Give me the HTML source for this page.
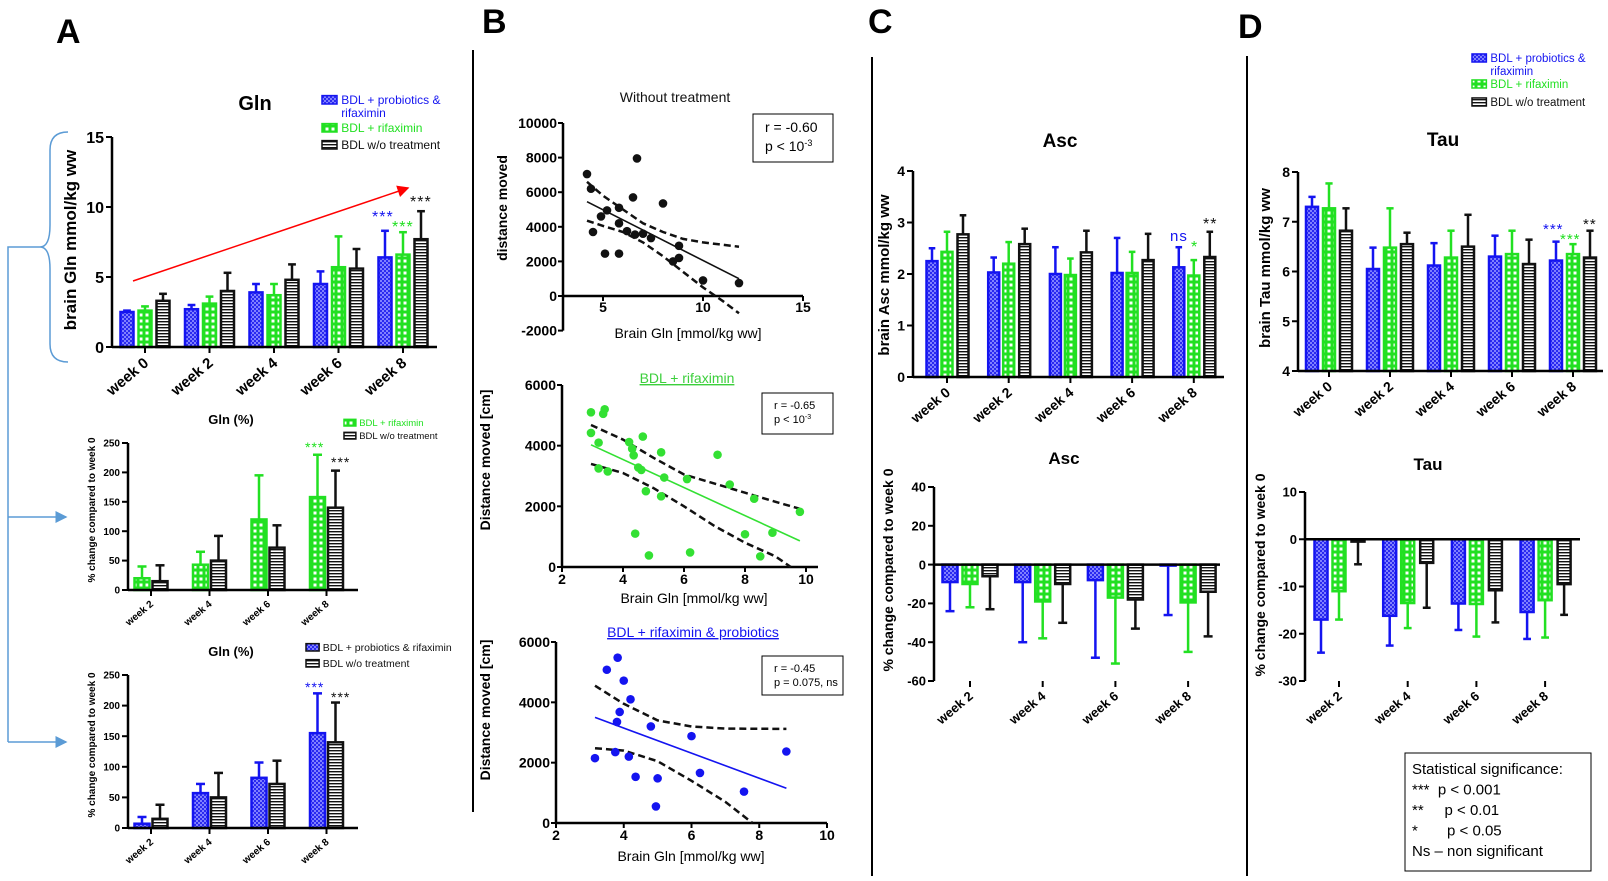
<!DOCTYPE html>
<html><head><meta charset="utf-8"><style>
html,body{margin:0;padding:0;background:#fff;width:1608px;height:881px;overflow:hidden}
svg{display:block;font-family:"Liberation Sans",Arial,sans-serif}
.pre{white-space:pre}
</style></head><body>
<svg id="fig" width="1608" height="881" viewBox="0 0 1608 881">
<defs>
<pattern id="pBlue" width="4" height="4" patternUnits="userSpaceOnUse"><rect width="4" height="4" fill="#2a2af0"/><rect width="2" height="2" fill="#8080ff"/><rect x="2" y="2" width="2" height="2" fill="#8080ff"/></pattern>
<pattern id="pGreen" width="6" height="6" patternUnits="userSpaceOnUse"><rect width="6" height="6" fill="#22e022"/><rect x="1.5" y="1.5" width="3" height="3" fill="#fff"/></pattern>
<pattern id="pBlack" width="4" height="3" patternUnits="userSpaceOnUse"><rect width="4" height="3" fill="#fff"/><rect y="0" width="4" height="1.4" fill="#111"/></pattern>
<marker id="arrowR" markerWidth="8" markerHeight="8" refX="7" refY="4" orient="auto"><path d="M0,0 L8,4 L0,8 z" fill="#f00"/></marker>
<marker id="arrowB" markerWidth="8" markerHeight="8" refX="7" refY="4" orient="auto"><path d="M0,0 L8,4 L0,8 z" fill="#5b9bd5"/></marker>
</defs>
<g id="root"></g>
</svg>
<script>
// ---------- DATA ----------
const weeks5 = ["week 0","week 2","week 4","week 6","week 8"];
const weeks4 = ["week 2","week 4","week 6","week 8"];
// A top: Gln
const glnBlue = [2.5,2.7,3.9,4.5,6.4];
const glnBlueTop = [2.6,3.0,4.5,5.4,8.3];
const glnGreen = [2.6,3.1,3.7,5.7,6.6];
const glnGreenTop = [2.9,3.6,4.5,7.9,8.2];
const glnBlack = [3.3,4.0,4.8,5.6,7.7];
const glnBlackTop = [3.8,5.3,5.9,7.0,9.7];
const glnTicks = [0,5,10,15];
// A middle: Gln % (rifaximin)
const glnPctGreen = [20,43,120,158];
const glnPctGreenTop = [40,65,195,230];
const glnPctBlack = [15,50,72,140];
const glnPctBlackTop = [42,92,110,203];
// A bottom: Gln % (probiotics)
const glnPctBlue = [7,57,82,155];
const glnPctBlueTop = [18,72,107,220];
const glnPctBlack2 = [15,50,72,140];
const glnPctBlack2Top = [38,90,110,205];
const pctTicks = [0,50,100,150,200,250];
// C top: Asc
const ascBlue = [2.25,2.03,2.0,2.02,2.13];
const ascBlueTop = [2.5,2.32,2.52,2.7,2.52];
const ascGreen = [2.43,2.2,1.98,2.02,1.97];
const ascGreenTop = [2.82,2.62,2.3,2.43,2.27];
const ascBlack = [2.77,2.58,2.42,2.27,2.33];
const ascBlackTop = [3.14,2.88,2.84,2.78,2.82];
const ascTicks = [0,1,2,3,4];
// C bottom: Asc %
const ascPctBlue = [-9,-9,-8,-0.5];
const ascPctBlueBot = [-24,-40,-48,-26];
const ascPctGreen = [-10,-19,-17,-19.5];
const ascPctGreenBot = [-22,-38,-51,-45];
const ascPctBlack = [-6,-10,-18,-14];
const ascPctBlackBot = [-23,-30,-33,-37];
const ascPctTicks = [-60,-40,-20,0,20,40];
// D top: Tau
const tauBlue = [7.3,6.05,6.12,6.3,6.22];
const tauBlueTop = [7.5,6.48,6.57,6.72,6.6];
const tauGreen = [7.27,6.48,6.28,6.35,6.35];
const tauGreenTop = [7.77,7.27,6.82,6.82,6.55];
const tauBlack = [6.82,6.55,6.5,6.15,6.28];
const tauBlackTop = [7.27,6.78,7.14,6.64,6.82];
const tauTicks = [4,5,6,7,8];
// D bottom: Tau %
const tauPctBlue = [-17,-16.2,-13.6,-15.4];
const tauPctBlueBot = [-24,-22.5,-19.2,-21.1];
const tauPctGreen = [-11,-13.5,-13.7,-12.9];
const tauPctGreenBot = [-17,-18.8,-20.6,-20.8];
const tauPctBlack = [-0.5,-5,-10.8,-9.5];
const tauPctBlackBot = [-5.3,-14.5,-17.6,-16];
const tauPctTicks = [-30,-20,-10,0,10];
// B scatter 1: without treatment
const s1X = [4.2,4.4,4.5,4.9,5.1,5.2,5.8,5.8,5.8,6.2,6.5,6.6,6.7,7.0,7.4,8.0,8.5,8.8,8.8,10.0,11.8];
const s1Y = [7050,6200,3700,4600,2450,4950,5100,4200,2450,3750,5700,3550,7950,3600,3350,5350,2000,2900,2200,900,750];
const s1LineX = [4.2,11.8];
const s1LineY = [5450,1000];
const s1UpX = [4.2,5,6,7,8,9,10,11.8];
const s1UpY = [6600,5800,5000,4200,3700,3300,3100,2850];
const s1LoX = [4.2,5,6,7,8,9,10,11,11.8];
const s1LoY = [4350,4050,3700,3100,2300,1400,500,-300,-1000];
const s1XTicks = [5,10,15];
const s1YTicks = [-2000,0,2000,4000,6000,8000,10000];
// B scatter 2: rifaximin
const s2X = [2.95,2.95,3.2,3.2,3.35,3.4,3.5,4.2,4.3,4.35,4.4,4.5,4.6,4.65,4.75,4.85,5.25,5.25,5.35,6.1,6.2,7.1,7.5,8.0,8.3,8.5,8.9,9.8];
const s2Y = [5100,4420,4100,3250,5050,5200,3150,4120,3900,3680,1100,3280,3200,4300,2500,380,3780,2330,2950,2900,480,3700,2720,1080,2250,350,1130,1820];
const s2LineX = [2.95,9.8];
const s2LineY = [4030,860];
const s2UpX = [2.95,4,5,6,7,8,9,9.8];
const s2UpY = [4680,4200,3600,3050,2750,2450,2150,1920];
const s2LoX = [2.95,4,5,6,7,8,9,9.5];
const s2LoY = [3400,3100,2600,2000,1350,800,350,0];
const s23XTicks = [2,4,6,8,10];
const s23YTicks = [0,2000,4000,6000];
// B scatter 3: rifaximin & probiotics
const s3X = [3.15,3.5,3.75,3.8,3.82,3.88,4.0,4.15,4.2,4.35,4.8,4.95,5.0,6.0,6.25,7.55,8.8];
const s3Y = [2150,5080,2350,3350,5480,3680,4720,2200,4100,1530,3200,550,1480,2880,1660,1040,2370];
const s3LineX = [3.15,8.8];
const s3LineY = [3500,1150];
const s3UpX = [3.15,4,5,6,7,8.8];
const s3UpY = [4550,3950,3400,3200,3130,3120];
const s3LoX = [3.15,4,5,6,7,7.8];
const s3LoY = [2480,2400,2050,1400,700,0];

// ---------- HELPERS ----------
const NS = "http://www.w3.org/2000/svg";
const root = document.getElementById("root");
function mk(tag, attrs, parent){
  const e = document.createElementNS(NS, tag);
  for (const k in attrs) e.setAttribute(k, attrs[k]);
  (parent || root).appendChild(e);
  return e;
}
function txt(s, attrs, parent){ const e = mk("text", attrs, parent); e.textContent = s; return e; }
function scale(d0, d1, r0, r1){ return v => r0 + (v - d0) / (d1 - d0) * (r1 - r0); }

const BLUE = "#1414f0", GREEN = "#22e022", BLACK = "#111";

function barChart(c){
  const g = mk("g", {});
  
  
  const y = scale(c.dMin, c.dMax, c.yBot, c.yTop);
  const y0 = y(c.base);
  c.series.forEach(s => {
    s.vals.forEach((v, i) => {
      const cx = c.c0 + i * c.step + s.off;
      const ye = y(s.err[i]);
      const yv = y(v);
      const eb = mk("line", {x1:cx, x2:cx, y1:yv, y2:ye, stroke:s.col, "stroke-width":2.5}, g);
      
      
      const cap = mk("line", {x1:cx-c.bw*0.3, x2:cx+c.bw*0.3, y1:ye, y2:ye, stroke:s.col, "stroke-width":2.5}, g);
      
      
      const r = mk("rect", {x:cx-c.bw/2, y:Math.min(yv,y0), width:c.bw, height:Math.max(1,Math.abs(y0-yv)), fill:s.fill, stroke:s.col, "stroke-width":2.5}, g);
      
      
    });
  });
  const ya = mk("line", {x1:c.x0, x2:c.x0, y1:c.yTop, y2:c.yBot, stroke:"#000", "stroke-width":2.5}, g);
  
  
  const xa = mk("line", {x1:c.x0, x2:c.xEnd, y1:y0, y2:y0, stroke:"#000", "stroke-width":2.5}, g);
  
  
  c.ticks.forEach(t => {
    mk("line", {x1:c.x0-6, x2:c.x0, y1:y(t), y2:y(t), stroke:"#000", "stroke-width":2}, g);
    const tl = txt(String(t), {x:c.x0-8, y:y(t)+c.tf*0.36, "text-anchor":"end", "font-size":c.tf, "font-weight":"bold"}, g);
    
    
  });
  const axY = c.labelAtBottom ? c.yBot : y0;
  c.cats.forEach((cat, i) => {
    const cx = c.c0 + i * c.step;
    mk("line", {x1:cx, x2:cx, y1:axY, y2:axY+6, stroke:"#000", "stroke-width":2}, g);
    const lx = cx + c.lf*0.3, ly = axY + 10 + c.lf*0.5;
    const wl = txt(cat, {x:lx, y:ly, "text-anchor":"end", "font-size":c.lf, "font-weight":"bold", transform:`rotate(-40 ${lx} ${ly})`}, g);
    
    
  });
  if (c.ylabel){
    const yl = txt(c.ylabel, {x:c.ylx, y:c.yly, "text-anchor":"middle", "font-size":c.ylf, "font-weight":"bold", transform:`rotate(-90 ${c.ylx} ${c.yly})`}, g);
    
    
  }
  if (c.title){
    const tt = txt(c.title, {x:c.tx, y:c.ty, "text-anchor":"middle", "font-size":c.tsz, "font-weight":"bold"}, g);
    
    
  }
  return g;
}

function scatter(c){
  const g = mk("g", {});
  
  
  const x = scale(c.xd[0], c.xd[1], c.xr[0], c.xr[1]);
  const y = scale(c.yd[0], c.yd[1], c.yr[0], c.yr[1]);
  const yz = y(0);
  const ya = mk("line", {x1:c.xr[0], x2:c.xr[0], y1:y(c.yTicks[c.yTicks.length-1]), y2:y(c.yTicks[0]), stroke:"#000", "stroke-width":2.5}, g);
  
  
  const xa = mk("line", {x1:c.xr[0], x2:c.xEnd, y1:yz, y2:yz, stroke:"#000", "stroke-width":2.5}, g);
  
  
  c.yTicks.forEach(t => {
    mk("line", {x1:c.xr[0]-5, x2:c.xr[0], y1:y(t), y2:y(t), stroke:"#000", "stroke-width":2}, g);
    const tl = txt(String(t), {x:c.xr[0]-6, y:y(t)+5, "text-anchor":"end", "font-size":14, "font-weight":"bold"}, g);
    
    
  });
  c.xTicks.forEach(t => {
    mk("line", {x1:x(t), x2:x(t), y1:yz, y2:yz+5, stroke:"#000", "stroke-width":2}, g);
    const tl = txt(String(t), {x:x(t), y:c.xtY, "text-anchor":"middle", "font-size":14, "font-weight":"bold"}, g);
    
    
  });
  const pth = (xs, ys) => xs.map((v,i)=>(i?"L":"M")+x(v).toFixed(1)+","+y(ys[i]).toFixed(1)).join(" ");
  const up = mk("path", {d:pth(c.upX,c.upY), fill:"none", stroke:"#111", "stroke-width":2.5, "stroke-dasharray":"7,4"}, g);
  
  
  const lo = mk("path", {d:pth(c.loX,c.loY), fill:"none", stroke:"#111", "stroke-width":2.5, "stroke-dasharray":"7,4"}, g);
  
  
  const rl = mk("path", {d:pth(c.lineX,c.lineY), fill:"none", stroke:c.lineCol, "stroke-width":1.6}, g);
  
  
  c.px.forEach((v,i) => {
    const p = mk("circle", {cx:x(v), cy:y(c.py[i]), r:4.3, fill:c.dotCol}, g);
    
    
  });
  const xl = txt("Brain Gln [mmol/kg ww]", {x:c.xlx, y:c.xly, "text-anchor":"middle", "font-size":14}, g);
  
  
  const yl = txt(c.ylabel, {x:c.ylx, y:c.yly, "text-anchor":"middle", "font-size":14, "font-weight":"bold", transform:`rotate(-90 ${c.ylx} ${c.yly})`}, g);
  
  
  const tt = txt(c.title, {x:c.tx, y:c.ty, "text-anchor":"middle", "font-size":14, fill:c.titleCol, "text-decoration":c.underline?"underline":"none"}, g);
  
  
  const bx = mk("rect", {x:c.box[0], y:c.box[1], width:c.box[2], height:c.box[3], fill:"#fff", stroke:"#000", "stroke-width":1}, g);
  
  
  c.boxLines.forEach((l,i) => {
    const t = txt("", {x:c.box[0]+c.bpad, y:c.box[1]+c.bl0+i*c.bls, "font-size":c.bfs}, g);
    t.innerHTML = l;
    
    
  });
}

function legend(x, y, items, fs, rowH){
  const g = mk("g", {});
  
  
  let yy = y;
  items.forEach(it => {
    if (it.fill){
      const b = mk("rect", {x:x, y:yy-fs*0.7, width:fs*1.25, height:fs*0.7, fill:it.fill, stroke:it.col, "stroke-width":1.5}, g);
      
      
    }
    const t = txt(it.text, {x:x+fs*1.6, y:yy, "font-size":fs, fill:it.col}, g);
    
    
    yy += it.h || rowH;
  });
}
function stars(s, x, y, col, fs){
  const t = txt(s, {x:x, y:y, "font-size":fs||16, fill:col, "letter-spacing":"1"});
  
  
}

// ---------- PANEL LETTERS & DIVIDERS ----------
[["A",56,43],["B",482,33],["C",868,33],["D",1238,38]].forEach(p=>{
  const t = txt(p[0], {x:p[1], y:p[2], "font-size":34, "font-weight":"bold"});
  
  
});
[[473,50,812],[872,57,876],[1247,56,876]].forEach(d=>{
  const l = mk("line", {x1:d[0], x2:d[0], y1:d[1], y2:d[2], stroke:"#000", "stroke-width":2});
  
  
});

// ---------- PANEL A ----------
barChart({name:"gln-chart", dMin:0, dMax:15, base:0, yTop:137, yBot:347, x0:112, xEnd:437, c0:145, step:64.5, bw:13,
  ticks:glnTicks, tf:16, cats:weeks5, lf:15, ylabel:"brain Gln mmol/kg ww", ylx:76, yly:240, ylf:17,
  title:"Gln", tx:255, ty:110, tsz:20,
  series:[{vals:glnBlue, err:glnBlueTop, fill:"url(#pBlue)", col:BLUE, off:-18, label:"probiotics-rifaximin"},
          {vals:glnGreen, err:glnGreenTop, fill:"url(#pGreen)", col:GREEN, off:0, label:"rifaximin"},
          {vals:glnBlack, err:glnBlackTop, fill:"url(#pBlack)", col:BLACK, off:18, label:"no-treatment"}]});
legend(322, 104, [{text:"BDL + probiotics &", col:BLUE, fill:"url(#pBlue)", h:13},{text:"rifaximin", col:BLUE, h:15},{text:"BDL + rifaximin", col:GREEN, fill:"url(#pGreen)", h:17},{text:"BDL w/o treatment", col:"#111", fill:"url(#pBlack)"}], 12, 15);
const arrow = mk("line", {x1:133, y1:281, x2:408, y2:188, stroke:"#f00", "stroke-width":1.5, "marker-end":"url(#arrowR)"});


stars("***", 372, 222, "#1414f0"); stars("***", 392, 232, "#22e022"); stars("***", 410, 207, "#111");
const brace = mk("path", {d:"M68,132 Q50,132 50,150 L50,225 Q50,247 40,247 Q50,247 50,269 L50,344 Q50,362 68,362", fill:"none", stroke:"#5b9bd5", "stroke-width":1.5});


const conn = mk("path", {d:"M40,247 L8,247 L8,742", fill:"none", stroke:"#5b9bd5", "stroke-width":1.5});


[517,742].forEach(yy=>{
  const a = mk("line", {x1:8, x2:66, y1:yy, y2:yy, stroke:"#5b9bd5", "stroke-width":1.5, "marker-end":"url(#arrowB)"});
  
  
});

barChart({name:"gln-pct-rifaximin-chart", dMin:0, dMax:250, base:0, yTop:443, yBot:590, x0:128, xEnd:358, c0:151, step:58.5, bw:15,
  ticks:pctTicks, tf:10, cats:weeks4, lf:10, ylabel:"% change compared to week 0", ylx:95, yly:510, ylf:10,
  title:"Gln (%)", tx:231, ty:424, tsz:13,
  series:[{vals:glnPctGreen, err:glnPctGreenTop, fill:"url(#pGreen)", col:GREEN, off:-9, label:"rifaximin"},
          {vals:glnPctBlack, err:glnPctBlackTop, fill:"url(#pBlack)", col:BLACK, off:9, label:"no-treatment"}]});
legend(344, 426, [{text:"BDL + rifaximin", col:GREEN, fill:"url(#pGreen)"},{text:"BDL w/o treatment", col:"#111", fill:"url(#pBlack)"}], 9.5, 13);
stars("***", 305, 452, "#22e022", 14); stars("***", 331, 467, "#111", 14);

barChart({name:"gln-pct-probiotics-chart", dMin:0, dMax:250, base:0, yTop:675, yBot:828, x0:128, xEnd:358, c0:151, step:58.5, bw:15,
  ticks:pctTicks, tf:10, cats:weeks4, lf:10, ylabel:"% change compared to week 0", ylx:95, yly:745, ylf:10,
  title:"Gln (%)", tx:231, ty:656, tsz:13,
  series:[{vals:glnPctBlue, err:glnPctBlueTop, fill:"url(#pBlue)", col:BLUE, off:-9, label:"probiotics-rifaximin"},
          {vals:glnPctBlack2, err:glnPctBlack2Top, fill:"url(#pBlack)", col:BLACK, off:9, label:"no-treatment"}]});
legend(306, 651, [{text:"BDL + probiotics & rifaximin", col:"#111", fill:"url(#pBlue)"},{text:"BDL w/o treatment", col:"#111", fill:"url(#pBlack)"}], 10.5, 16);
stars("***", 305, 692, "#1414f0", 14); stars("***", 331, 702, "#111", 14);

// ---------- PANEL B ----------
scatter({name:"scatter-without-treatment", xd:[3,15], xr:[563,803], yd:[0,10000], yr:[296,123], xEnd:803,
  xTicks:s1XTicks, yTicks:s1YTicks, xtY:312, px:s1X, py:s1Y, dotCol:"#111", lineCol:"#111",
  lineX:s1LineX, lineY:s1LineY, upX:s1UpX, upY:s1UpY, loX:s1LoX, loY:s1LoY,
  xlx:688, xly:338, ylabel:"distance moved", ylx:507, yly:208, title:"Without  treatment", tx:675, ty:102, titleCol:"#111",
  box:[753,114,80,48], boxLines:["r = -0.60","p &lt; 10<tspan dy='-5' font-size='9'>-3</tspan>"], bpad:12, bl0:18, bls:19, bfs:14});
scatter({name:"scatter-rifaximin", xd:[2,10], xr:[562,806], yd:[0,6000], yr:[567,385], xEnd:818,
  xTicks:s23XTicks, yTicks:s23YTicks, xtY:584, px:s2X, py:s2Y, dotCol:"#33e033", lineCol:"#33e033",
  lineX:s2LineX, lineY:s2LineY, upX:s2UpX, upY:s2UpY, loX:s2LoX, loY:s2LoY,
  xlx:694, xly:603, ylabel:"Distance moved [cm]", ylx:490, yly:460, title:"BDL + rifaximin", tx:687, ty:383, titleCol:"#3ccf3c", underline:true,
  box:[762,393,71,41], boxLines:["r = -0.65","p &lt; 10<tspan dy='-4' font-size='7'>-3</tspan>"], bpad:12, bl0:16, bls:14, bfs:11});
scatter({name:"scatter-rifaximin-probiotics", xd:[2,10], xr:[556,827], yd:[0,6000], yr:[823,642], xEnd:827,
  xTicks:s23XTicks, yTicks:s23YTicks, xtY:840, px:s3X, py:s3Y, dotCol:"#1414f0", lineCol:"#1414f0",
  lineX:s3LineX, lineY:s3LineY, upX:s3UpX, upY:s3UpY, loX:s3LoX, loY:s3LoY,
  xlx:691, xly:861, ylabel:"Distance moved [cm]", ylx:490, yly:710, title:"BDL + rifaximin & probiotics", tx:693, ty:637, titleCol:"#1414f0", underline:true,
  box:[762,656,81,39], boxLines:["r = -0.45","p = 0.075, ns"], bpad:12, bl0:16, bls:14, bfs:11});

// ---------- PANEL C ----------
barChart({name:"asc-chart", dMin:0, dMax:4, base:0, yTop:171, yBot:377, x0:913, xEnd:1224, c0:947, step:61.7, bw:11,
  ticks:ascTicks, tf:14, cats:weeks5, lf:14, ylabel:"brain Asc mmol/kg ww", ylx:889, yly:275, ylf:15,
  title:"Asc", tx:1060, ty:147, tsz:19,
  series:[{vals:ascBlue, err:ascBlueTop, fill:"url(#pBlue)", col:BLUE, off:-15, label:"probiotics-rifaximin"},
          {vals:ascGreen, err:ascGreenTop, fill:"url(#pGreen)", col:GREEN, off:0, label:"rifaximin"},
          {vals:ascBlack, err:ascBlackTop, fill:"url(#pBlack)", col:BLACK, off:16, label:"no-treatment"}]});
stars("ns", 1170, 241, "#1414f0", 15); stars("*", 1191, 252, "#22e022", 16); stars("**", 1203, 229, "#111", 16);
barChart({name:"asc-pct-chart", dMin:-60, dMax:40, base:0, yTop:487, yBot:681, x0:934, xEnd:1220, c0:970, step:72.7, bw:15, labelAtBottom:true,
  ticks:ascPctTicks, tf:13, cats:weeks4, lf:13, ylabel:"% change compared to week 0", ylx:893, yly:570, ylf:14,
  title:"Asc", tx:1064, ty:464, tsz:17,
  series:[{vals:ascPctBlue, err:ascPctBlueBot, fill:"url(#pBlue)", col:BLUE, off:-20, label:"probiotics-rifaximin"},
          {vals:ascPctGreen, err:ascPctGreenBot, fill:"url(#pGreen)", col:GREEN, off:0, label:"rifaximin"},
          {vals:ascPctBlack, err:ascPctBlackBot, fill:"url(#pBlack)", col:BLACK, off:20, label:"no-treatment"}]});

// ---------- PANEL D ----------
barChart({name:"tau-chart", dMin:4, dMax:8, base:4, yTop:172, yBot:371, x0:1298, xEnd:1603, c0:1329, step:61, bw:12,
  ticks:tauTicks, tf:14, cats:weeks5, lf:14, ylabel:"brain Tau mmol/kg ww", ylx:1270, yly:268, ylf:15,
  title:"Tau", tx:1443, ty:146, tsz:19,
  series:[{vals:tauBlue, err:tauBlueTop, fill:"url(#pBlue)", col:BLUE, off:-17, label:"probiotics-rifaximin"},
          {vals:tauGreen, err:tauGreenTop, fill:"url(#pGreen)", col:GREEN, off:0, label:"rifaximin"},
          {vals:tauBlack, err:tauBlackTop, fill:"url(#pBlack)", col:BLACK, off:17, label:"no-treatment"}]});
legend(1472, 62, [{text:"BDL + probiotics &", col:BLUE, fill:"url(#pBlue)", h:13},{text:"rifaximin", col:BLUE, h:13},{text:"BDL + rifaximin", col:GREEN, fill:"url(#pGreen)", h:18},{text:"BDL w/o treatment", col:"#111", fill:"url(#pBlack)"}], 11.5, 15);
stars("***", 1543, 234, "#1414f0", 15); stars("***", 1560, 244, "#22e022", 15); stars("**", 1583, 229, "#111", 15);
barChart({name:"tau-pct-chart", dMin:-30, dMax:10, base:0, yTop:492, yBot:681, x0:1305, xEnd:1580, c0:1339, step:68.7, bw:13, labelAtBottom:true,
  ticks:tauPctTicks, tf:13, cats:weeks4, lf:13, ylabel:"% change compared to week 0", ylx:1265, yly:575, ylf:14,
  title:"Tau", tx:1428, ty:470, tsz:17,
  series:[{vals:tauPctBlue, err:tauPctBlueBot, fill:"url(#pBlue)", col:BLUE, off:-18, label:"probiotics-rifaximin"},
          {vals:tauPctGreen, err:tauPctGreenBot, fill:"url(#pGreen)", col:GREEN, off:0, label:"rifaximin"},
          {vals:tauPctBlack, err:tauPctBlackBot, fill:"url(#pBlack)", col:BLACK, off:19, label:"no-treatment"}]});

// ---------- STATS BOX ----------
const sb = mk("rect", {x:1405, y:753, width:186, height:118, fill:"#fff", stroke:"#000", "stroke-width":1});


["Statistical significance:","***  p < 0.001","**     p < 0.01","*       p < 0.05","Ns – non significant"].forEach((s,i)=>{
  const t = txt(s, {x:1412, y:774+i*20.5, "font-size":15, "class":"pre"});
  
  
});
</script>
</body></html>
